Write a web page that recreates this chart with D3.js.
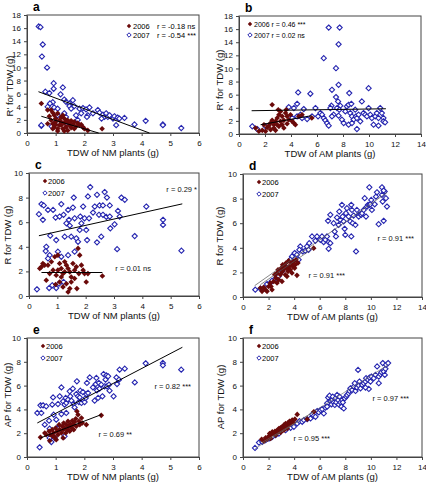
<!DOCTYPE html>
<html><head><meta charset="utf-8">
<script src="https://cdn.jsdelivr.net/npm/d3@7"></script>
<style>body{margin:0;background:#fff}svg{display:block;font-family:"Liberation Sans",Arial,sans-serif}</style>
</head><body><svg id="c" width="426" height="483"></svg>
<script>
// ---- data (x, y) ----
const a07=[[0.41,16.26],[0.47,16.15],[0.55,13.5],[0.52,11.66],[0.70,9.97],[0.5,1.1],[0.5,1.2],[0.64,6.3],[0.78,6.1],[0.93,7.6],[0.93,6.75],[1.25,6.95],[1.17,5.9],[0.9,4.7],[0.8,4.5],[0.72,4.0],[0.95,3.9],[1.07,3.7],[1.3,5.1],[1.36,4.75],[1.48,4.5],[1.6,5.0],[1.48,4.1],[1.54,3.7],[1.65,4.1],[1.83,3.7],[1.95,3.8],[2.06,3.6],[2.18,3.9],[1.89,3.0],[2.12,2.7],[2.09,2.45],[2.3,3.0],[2.47,3.5],[2.53,3.1],[2.65,2.8],[2.76,3.0],[2.7,2.45],[2.82,2.45],[2.88,2.7],[2.6,2.2],[3.0,2.2],[3.05,2.55],[3.11,1.2],[3.16,2.35],[3.22,2.2],[3.4,2.3],[3.75,1.3],[4.14,1.85],[4.74,1.3],[4.74,1.2],[5.38,0.75],[0.86,1.0],[0.95,1.4],[1.36,1.5],[1.77,2.0],[1.07,2.7],[1.3,3.0],[1.71,2.7],[1.36,2.45]];
const a06=[[0.5,4.5],[0.72,3.5],[0.84,3.5],[0.9,3.1],[0.95,2.7],[0.78,2.55],[1.0,2.2],[1.07,3.0],[1.19,2.45],[1.13,1.95],[1.0,1.7],[0.9,1.4],[0.95,0.9],[1.07,0.65],[1.19,1.2],[1.3,1.5],[1.25,0.65],[1.36,0.9],[1.42,0.4],[1.48,1.2],[1.54,0.8],[1.6,1.3],[1.65,0.65],[1.71,1.0],[1.83,1.2],[1.95,0.9],[2.0,0.65],[2.12,0.4],[2.62,0.65],[0.72,1.4],[0.84,1.95],[1.3,2.2],[1.42,1.95],[1.54,1.85],[1.65,1.7],[1.77,1.5],[1.13,1.2],[1.0,1.3],[1.19,1.7],[1.25,2.7],[1.36,1.7],[1.48,1.5],[0.9,0.65],[1.89,1.3],[1.07,0.3],[1.3,0.3]];
const b07=[[1.02,1.17],[1.4,0.76],[2.04,1.17],[3.83,4.1],[4.22,3.96],[4.47,4.6],[4.55,6.34],[4.09,2.43],[4.47,2.69],[4.73,2.94],[4.98,3.8],[4.85,2.43],[5.49,6.14],[5.88,3.96],[6.08,2.69],[6.26,3.2],[6.39,2.94],[6.52,2.43],[6.64,2.08],[6.77,1.67],[6.9,1.27],[6.52,11.56],[6.9,16.23],[7.74,16.23],[7.66,13.69],[7.46,10.04],[7.66,7.5],[7.15,6.74],[7.46,5.63],[7.62,4.97],[7.11,4.31],[7.03,3.96],[7.54,3.96],[7.79,4.31],[7.72,3.7],[7.28,2.94],[7.66,2.79],[7.92,2.18],[8.05,1.67],[7.15,2.69],[8.18,3.45],[8.3,4.21],[8.43,4.46],[8.48,6.24],[8.64,4.6],[8.56,3.2],[8.69,2.69],[8.81,2.18],[8.94,3.7],[9.0,2.69],[9.07,2.43],[9.2,2.94],[9.07,0.76],[9.33,1.93],[8.43,1.42],[8.69,1.67],[9.45,4.97],[9.58,3.2],[9.71,2.94],[9.84,2.69],[9.97,6.99],[9.97,3.96],[10.1,2.94],[10.22,2.43],[10.48,2.69],[10.6,3.2],[10.73,2.43],[10.86,3.96],[10.99,3.2],[10.35,1.42],[10.73,1.27],[11.11,2.43],[11.11,1.93],[11.24,1.78],[5.62,2.69],[5.24,2.28]];
const b06=[[2.55,4.46],[1.28,0.91],[1.53,0.41],[1.79,0.56],[1.92,1.42],[2.17,1.01],[2.3,1.27],[2.43,1.67],[2.55,2.08],[2.68,1.42],[2.81,1.93],[2.94,2.43],[3.07,2.94],[3.02,3.7],[3.19,3.45],[3.32,2.69],[3.45,2.08],[3.58,3.2],[3.63,3.7],[3.7,2.69],[3.83,2.18],[3.96,2.94],[4.09,1.93],[4.22,1.67],[4.34,1.42],[4.6,2.69],[4.85,2.94],[5.6,2.43],[3.19,1.93],[2.94,1.42],[2.68,0.91],[2.43,0.66],[3.32,1.42],[3.45,0.91],[3.7,1.57],[3.07,1.17],[2.04,0.41],[2.81,0.56]];
const c07=[[0.35,6.65],[0.44,7.47],[0.52,7.36],[0.49,6.19],[0.61,4.0],[0.67,7.0],[0.75,4.9],[0.85,7.0],[0.94,6.38],[0.96,4.55],[1.08,6.46],[1.14,7.47],[1.22,6.6],[1.26,4.82],[1.32,5.91],[1.38,7.0],[1.41,6.19],[1.44,5.72],[1.49,4.82],[1.55,7.19],[1.58,8.0],[1.61,6.32],[1.67,4.69],[1.73,4.41],[1.79,5.37],[1.81,6.46],[1.85,5.91],[1.91,7.27],[1.96,6.32],[2.02,5.37],[2.05,4.55],[2.08,8.09],[2.12,6.32],[2.16,8.86],[2.26,6.78],[2.32,7.27],[2.4,8.23],[2.4,4.36],[2.47,6.6],[2.49,7.36],[2.55,4.82],[2.61,7.36],[2.61,6.6],[2.67,8.45],[2.73,6.43],[2.75,8.0],[2.85,7.36],[2.85,6.46],[2.87,5.5],[3.02,5.83],[3.11,3.81],[3.14,6.92],[3.2,6.46],[3.26,8.0],[3.38,7.82],[3.73,4.87],[4.14,7.27],[4.73,6.19],[4.73,5.78],[5.38,3.68],[0.28,0.54],[0.71,0.65],[0.82,0.87],[0.96,0.65],[1.06,1.0],[1.22,1.14],[0.59,3.65],[0.73,3.32],[0.67,3.05],[1.02,3.6],[1.14,3.19],[1.38,3.32],[1.61,3.6]];
const c06=[[0.38,2.23],[0.44,2.37],[0.49,2.64],[0.55,2.51],[0.67,2.51],[0.79,2.78],[0.85,2.1],[0.91,3.19],[0.96,1.69],[1.02,3.32],[1.08,2.64],[1.14,2.23],[1.2,1.82],[1.26,2.78],[1.32,2.51],[1.38,2.23],[1.44,1.96],[1.49,1.55],[1.38,0.33],[1.44,0.6],[1.32,1.0],[1.2,0.74],[1.08,1.14],[0.94,0.93],[1.55,2.64],[1.61,2.1],[1.67,2.37],[1.73,3.87],[1.79,3.32],[1.76,1.82],[1.85,2.51],[1.91,2.1],[1.96,1.82],[2.02,1.14],[2.08,1.82],[1.69,0.6],[2.59,1.63],[0.73,1.82],[0.61,1.28],[1.26,1.96],[1.14,1.55],[1.49,1.14],[1.61,1.42],[1.02,2.1]];
const d07=[[0.96,0.59],[1.36,0.68],[1.62,0.73],[1.88,1.05],[2.14,1.14],[2.27,1.32],[2.79,1.68],[3.83,3.3],[4.04,3.57],[4.22,3.43],[4.48,4.11],[4.41,3.84],[4.67,3.7],[4.87,3.76],[5.0,4.11],[5.13,3.84],[5.18,4.38],[5.4,4.92],[5.66,4.57],[5.79,4.92],[6.05,4.65],[6.18,4.92],[6.31,4.46],[6.44,4.65],[6.57,4.92],[6.7,4.46],[6.83,4.38],[6.7,3.92],[6.65,6.19],[6.83,6.68],[7.09,6.0],[7.17,5.32],[7.27,4.92],[7.35,6.46],[7.48,5.86],[7.53,6.95],[7.61,6.27],[7.74,7.49],[7.79,6.54],[7.87,6.14],[7.95,5.54],[8.0,5.05],[8.05,6.81],[8.13,7.22],[8.26,6.54],[8.39,6.14],[8.47,7.49],[8.52,7.08],[8.47,4.92],[8.58,6.0],[8.65,6.62],[8.79,5.86],[8.84,3.7],[8.91,7.08],[9.05,6.68],[9.05,6.54],[9.18,6.73],[9.25,6.68],[9.31,6.81],[9.44,7.08],[9.52,8.03],[9.62,6.54],[9.7,7.35],[9.78,7.49],[9.88,7.49],[9.96,7.54],[10.03,7.89],[9.88,8.92],[10.08,7.08],[10.3,7.54],[10.4,8.16],[10.48,8.51],[10.61,5.92],[10.87,8.3],[10.92,7.76],[10.87,8.92],[11.0,6.19],[11.08,8.57],[11.18,8.03],[11.26,7.35],[11.0,8.65],[4.09,2.76],[3.7,3.03],[3.31,2.49],[3.57,2.22],[3.05,2.08],[2.53,1.49],[4.35,3.03]];
const d06=[[1.36,0.73],[1.49,0.46],[1.62,0.78],[1.75,0.59],[2.01,0.86],[2.27,0.59],[2.14,1.14],[2.4,1.27],[2.48,1.81],[2.58,1.54],[2.66,1.95],[2.74,2.22],[2.79,1.41],[2.92,1.81],[3.0,2.35],[3.05,2.03],[3.1,2.62],[3.18,2.22],[3.26,2.49],[3.31,1.81],[3.36,2.76],[3.44,2.35],[3.52,2.08],[3.57,2.95],[3.62,2.49],[3.7,2.22],[3.78,2.76],[3.83,1.95],[3.88,2.49],[3.96,2.89],[4.04,2.35],[4.09,2.62],[4.14,3.03],[4.22,1.76],[4.3,2.76],[5.53,3.97],[3.05,1.27],[2.66,1.14],[3.44,1.68],[1.88,0.46],[2.19,0.86]];
const e07=[[0.36,3.7],[0.47,4.34],[0.5,3.7],[0.56,4.34],[0.44,0.81],[0.62,2.72],[0.67,4.26],[0.77,3.05],[0.79,2.38],[0.79,1.6],[0.85,1.26],[0.88,4.4],[0.91,5.01],[0.93,3.56],[1.02,3.14],[1.08,4.45],[1.14,5.1],[1.2,5.85],[1.26,4.68],[1.31,4.4],[1.35,4.96],[1.37,4.54],[1.43,4.82],[1.49,5.52],[1.51,5.1],[1.55,4.73],[1.6,5.74],[1.63,4.45],[1.66,4.17],[1.72,5.29],[1.74,6.36],[1.78,5.1],[1.81,4.62],[1.84,5.01],[1.86,5.57],[1.9,4.54],[1.95,5.46],[2.01,4.62],[2.05,4.96],[2.07,5.29],[2.09,6.22],[2.13,5.38],[2.19,6.69],[2.3,5.85],[2.36,4.73],[2.4,6.13],[2.42,6.64],[2.44,5.6],[2.48,4.96],[2.51,6.22],[2.53,5.74],[2.59,6.08],[2.63,5.1],[2.67,6.97],[2.71,5.94],[2.74,6.5],[2.77,6.86],[2.79,5.94],[2.83,6.78],[2.86,6.08],[2.88,5.57],[3.02,5.1],[3.12,6.69],[3.14,6.13],[3.21,6.5],[3.23,7.34],[3.41,7.42],[3.76,6.27],[4.14,7.87],[4.74,7.9],[4.74,7.7],[5.38,7.34],[1.2,3.61],[1.37,3.7],[1.05,2.44],[0.97,1.6],[1.31,1.74],[1.49,2.3]];
const e06=[[0.47,1.65],[0.62,2.02],[0.67,1.88],[0.77,2.16],[0.81,1.88],[0.88,2.3],[0.93,2.02],[0.97,1.65],[1.0,2.44],[1.05,2.16],[1.08,1.88],[1.12,2.72],[1.14,2.3],[1.2,2.02],[1.23,2.58],[1.26,2.3],[1.28,2.86],[1.31,2.44],[1.35,2.02],[1.37,2.72],[1.4,2.3],[1.43,3.0],[1.46,2.58],[1.49,2.16],[1.51,2.77],[1.55,2.44],[1.58,3.05],[1.6,2.72],[1.63,2.3],[1.66,2.94],[1.7,3.22],[1.72,2.58],[1.74,3.84],[1.78,3.56],[1.81,3.0],[1.84,2.72],[1.9,3.28],[1.93,2.86],[2.07,2.72],[2.59,3.5],[0.79,1.37],[1.02,1.46],[1.26,1.6],[0.9,1.74]];
const f07=[[0.94,0.76],[1.25,1.21],[1.51,1.27],[1.77,1.41],[2.03,1.55],[2.16,1.61],[2.29,1.69],[2.55,1.83],[2.81,1.97],[3.33,2.25],[3.72,2.45],[3.98,2.54],[4.24,2.82],[4.42,3.01],[4.63,2.96],[4.76,3.1],[5.02,3.18],[5.28,3.24],[5.41,3.58],[5.54,3.46],[5.8,3.86],[5.93,3.75],[6.06,3.94],[6.19,4.03],[6.45,4.14],[6.58,4.51],[6.66,4.99],[6.77,5.15],[6.84,4.7],[6.92,4.42],[6.97,4.79],[7.02,5.07],[7.1,4.59],[7.18,4.37],[7.23,4.93],[7.29,4.59],[7.36,5.21],[7.44,4.79],[7.49,4.42],[7.55,5.07],[7.62,4.59],[7.7,4.23],[7.75,4.79],[7.81,4.59],[7.88,4.08],[7.96,4.93],[8.07,5.07],[8.14,5.21],[8.27,5.35],[8.33,5.55],[8.4,5.77],[8.53,5.63],[8.67,5.92],[8.74,6.2],[8.8,5.55],[8.92,5.83],[9.06,6.0],[9.11,6.34],[9.19,5.77],[9.32,6.06],[9.45,6.2],[9.0,7.32],[9.58,6.34],[9.63,6.62],[9.78,6.48],[9.89,6.68],[9.97,6.34],[10.04,6.76],[10.23,6.62],[10.36,6.9],[10.49,7.61],[10.62,6.76],[10.75,6.96],[10.82,7.13],[10.93,7.89],[11.01,7.18],[11.14,7.41],[11.19,7.75],[11.35,7.89],[11.09,6.9],[9.84,5.72],[10.62,6.2],[9.58,5.83],[6.32,3.66],[5.67,3.38],[6.58,4.23]];
const f06=[[1.46,1.49],[1.64,1.32],[1.77,1.61],[1.9,1.49],[2.03,1.77],[2.08,1.97],[2.24,1.89],[2.29,2.11],[2.42,1.97],[2.5,2.17],[2.6,2.06],[2.68,2.25],[2.76,2.11],[2.81,2.39],[2.86,2.25],[2.94,2.45],[3.02,2.34],[3.07,2.54],[3.12,2.39],[3.2,2.68],[3.28,2.54],[3.33,2.82],[3.38,2.62],[3.46,2.73],[3.54,2.9],[3.59,2.68],[3.64,3.01],[3.72,2.82],[3.8,2.96],[3.85,3.1],[3.93,2.9],[4.06,3.18],[4.24,3.58],[5.02,3.18],[5.54,3.8],[2.16,1.55],[2.55,1.83],[2.94,2.06],[3.2,2.25],[3.46,2.39]];
// regression line end points [[x1,y1],[x2,y2]]
const lineA07=[[0.4,6.3],[4.27,0]], lineA06=[[0.5,2.55],[2.5,0]];
const lineB07=[[0.97,3.55],[11.3,3.85]], lineB06=[[1.66,1.42],[5.57,2.79]];
const lineC07=[[0.35,4.9],[5.41,7.49]], lineC06=[[0.44,1.91],[2.59,1.91]];
const lineD07=[[0.91,0.92],[11.26,8.49]], lineD06=[[1.36,1.0],[5.53,4.0]];
const lineE07=[[0.36,2.86],[5.42,9.22]], lineE06=[[0.47,1.6],[2.59,3.56]];
const lineF07=[[0.94,0.7],[11.35,7.75]], lineF06=[[1.46,1.2],[5.54,3.8]];
const years=["2006","2007"];
const xTitles=["TDW of NM plants (g)","TDW of AM plants (g)"];
const yTitles=["R' for TDW (g)","R  for TDW (g)","AP  for TDW (g)"];

const RED="#6b0a0a", BLUE="#2626b0";
const svg=d3.select("#c");
const diamond=r=>`M0,${-r}L${r},0L0,${r}L${-r},0Z`;

const panels=[
 {id:"a",L:27,R:199,T:15,B:133,xmax:6,ymax:18,ystep:2,d07:a07,d06:a06,l07:lineA07,l06:lineA06,xt:0,yt:0,ytx:10,yty:86,lc:"#000",lw:1},
 {id:"b",L:239,R:421,T:16,B:134,xmax:14,ymax:18,ystep:2,d07:b07,d06:b06,l07:lineB07,l06:lineB06,xt:1,yt:0,ytx:220,yty:80,lc:"#000",lw:1},
 {id:"c",L:29,R:199,T:173,B:296,xmax:6,ymax:10,ystep:2,d07:c07,d06:c06,l07:lineC07,l06:lineC06,xt:0,yt:1,ytx:8,yty:235,lc:"#000",lw:1},
 {id:"d",L:243,R:422,T:174,B:297,xmax:14,ymax:10,ystep:2,d07:d07,d06:d06,l07:lineD07,l06:lineD06,xt:1,yt:1,ytx:220,yty:236,lc:"#555",lw:0.7},
 {id:"e",L:27,R:199,T:338,B:457,xmax:6,ymax:10,ystep:2,d07:e07,d06:e06,l07:lineE07,l06:lineE06,xt:0,yt:2,ytx:8,yty:395,lc:"#000",lw:1},
 {id:"f",L:243,R:422,T:338,B:457,xmax:14,ymax:10,ystep:2,d07:f07,d06:f06,l07:lineF07,l06:lineF06,xt:1,yt:2,ytx:221,yty:397,lc:"#666",lw:0.6}
];
const annots={
 c:[["r = 0.29 *",197,192],["r = 0.01 ns",151,271]],
 d:[["r = 0.91 ***",414,241],["r = 0.91 ***",345,278]],
 e:[["r = 0.82 ***",191,389],["r = 0.69 **",132,437]],
 f:[["r = 0.97 ***",409,401],["r = 0.95 ***",330,441]]
};

panels.forEach(p=>{
 const x=d3.scaleLinear().domain([0,p.xmax]).range([p.L,p.R]);
 const y=d3.scaleLinear().domain([0,p.ymax]).range([p.B,p.T]);
 const g=svg.append("g");
 g.append("rect").attr("x",p.L).attr("y",p.T).attr("width",p.R-p.L).attr("height",p.B-p.T)
  .attr("fill","none").attr("stroke","#444").attr("stroke-width",1);
 const xa=g.append("g").attr("transform",`translate(0,${p.B})`)
  .call(d3.axisBottom(x).tickValues(d3.range(0,p.xmax+0.01,p.xmax>6?2:1)).tickSize(3).tickSizeOuter(0).tickFormat(d3.format("d")));
 const ya=g.append("g").attr("transform",`translate(${p.L},0)`)
  .call(d3.axisLeft(y).tickValues(d3.range(0,p.ymax+0.01,p.ystep)).tickSize(3).tickSizeOuter(0).tickFormat(d3.format("d")));
 [xa,ya].forEach(a=>{a.select(".domain").attr("stroke","#444");a.selectAll("line").attr("stroke","#444");
   a.selectAll("text").attr("font-size",8).attr("fill","#111").attr("font-family","Liberation Sans, Arial, sans-serif");});
 xa.selectAll("text").attr("dy","0.9em");
 g.append("text").attr("x",(p.L+p.R)/2).attr("y",p.B+23).attr("text-anchor","middle")
  .attr("font-size",9.5).attr("fill","#111").text(xTitles[p.xt]);
 g.append("text").attr("transform",`translate(${p.ytx},${p.yty}) rotate(-90)`).attr("text-anchor","middle")
  .attr("dy","0.35em").attr("font-size",9.5).attr("fill","#111").text(yTitles[p.yt]);
 g.append("text").attr("x",p.L+6).attr("y",p.T-4).attr("font-size",12).attr("font-weight","bold").text(p.id);
 // points
 g.selectAll(".b").data(p.d07).join("path").attr("d",diamond(2.6))
  .attr("transform",d=>`translate(${x(d[0])},${y(d[1])})`).attr("fill","#fff").attr("stroke",BLUE).attr("stroke-width",1.1);
 g.selectAll(".r").data(p.d06).join("path").attr("d",diamond(2.8))
  .attr("transform",d=>`translate(${x(d[0])},${y(d[1])})`).attr("fill",RED);
 const ln=d3.line().x(d=>x(d[0])).y(d=>y(d[1]));
 [p.l07,p.l06].forEach(l=>g.append("path").attr("d",ln(l)).attr("stroke",p.lc).attr("stroke-width",p.lw).attr("fill","none"));
 // legends
 if(p.id==="a"){
  [[RED,years[0],26,"r = -0.18 ns"],[BLUE,years[1],35,"r = -0.54 ***"]].forEach((l,i)=>{
   g.append("path").attr("d",diamond(2.2)).attr("transform",`translate(129,${l[2]})`)
    .attr("fill",i?"#fff":l[0]).attr("stroke",i?l[0]:"none").attr("stroke-width",1);
   g.append("text").attr("x",133).attr("y",l[2]+3).attr("font-size",7.5).text(l[1]);
   g.append("text").attr("x",157).attr("y",l[2]+3).attr("font-size",7.5).text(l[3]);
  });
 } else if(p.id==="b"){
  [[RED,years[0]+" r = 0.46 ***",24],[BLUE,years[1]+" r = 0.02 ns",35]].forEach((l,i)=>{
   g.append("path").attr("d",diamond(2.2)).attr("transform",`translate(250,${l[2]})`)
    .attr("fill",i?"#fff":l[0]).attr("stroke",i?l[0]:"none").attr("stroke-width",1);
   g.append("text").attr("x",254).attr("y",l[2]+3).attr("font-size",7).text(l[1]);
  });
 } else {
  const lx=p.L+16, ly=p.T+8;
  [[RED,years[0],0],[BLUE,years[1],12]].forEach((l,i)=>{
   g.append("path").attr("d",diamond(2.2)).attr("transform",`translate(${lx},${ly+l[2]})`)
    .attr("fill",i?"#fff":l[0]).attr("stroke",i?l[0]:"none").attr("stroke-width",1);
   g.append("text").attr("x",lx+3).attr("y",ly+l[2]+3).attr("font-size",7.5).text(l[1]);
  });
  annots[p.id].forEach(t=>g.append("text").attr("x",t[1]).attr("y",t[2]).attr("text-anchor","end")
    .attr("font-size",7.5).attr("fill","#111").text(t[0]));
 }
});
</script></body></html>
